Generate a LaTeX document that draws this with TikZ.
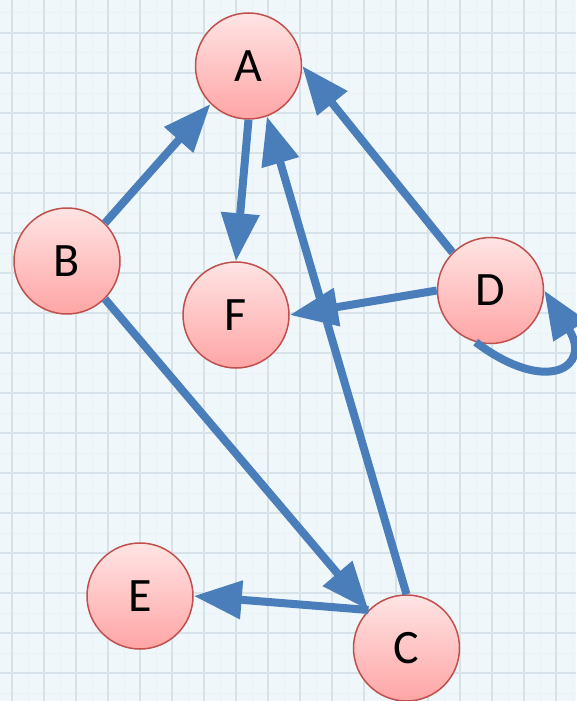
\documentclass[tikz,border=0pt]{standalone}
\usepackage{fontspec}
\setmainfont{Carlito}
\usetikzlibrary{arrows.meta}
\definecolor{edgeblue}{RGB}{74,126,187}
\definecolor{nodeline}{RGB}{192,80,77}
\definecolor{nodetop}{RGB}{255,228,228}
\definecolor{nodebot}{RGB}{255,165,165}
\definecolor{paper}{RGB}{240,247,250}
\definecolor{gridline}{RGB}{215,227,232}
\definecolor{gridfaint}{RGB}{233,242,246}
\tikzset{
	vertex/.style={circle,draw=nodeline,line width=1.5pt,top color=nodetop,bottom color=nodebot,
		minimum size=106pt,inner sep=0pt,font=\fontsize{48}{50}\selectfont},
	link/.style={edgeblue,line width=8pt,-{Triangle[length=48pt,width=37pt]}}
}
\begin{document}
\begin{tikzpicture}[x=1pt,y=-1pt]
	\fill[paper] (0,0) rectangle (576,701);
	\useasboundingbox (0,0) rectangle (576,701);
	% grid paper
	\foreach \gx in {28,60,...,576} \draw[gridfaint,line width=1pt] (\gx,0)--(\gx,701);
	\foreach \gy in {13,53,...,701} \draw[gridfaint,line width=1pt] (0,\gy)--(576,\gy);
	\foreach \gx in {12,44,...,576} \draw[gridline,line width=2.5pt] (\gx,0)--(\gx,701);
	\foreach \gy in {33,73,...,701} \draw[gridline,line width=2.5pt] (0,\gy)--(576,\gy);
	% vertices
	\node[vertex] (A) at (248.5,66) {A};
	\node[vertex] (B) at (67,261) {B};
	\node[vertex] (F) at (236,315) {F};
	\node[vertex] (D) at (490.5,290.5) {D};
	\node[vertex] (E) at (140,596) {E};
	\node[vertex] (C) at (406.5,648) {C};
	% edges
	\draw[link] (B.north east)--(A.south west);
	\draw[link] (A.south)--(F.north);
	\draw[link] (C.north)--(A.-70);
	\draw[link] (D.north west)--(A.east);
	\draw[link] (D.west)--(F.east);
	\draw[link] (B.south east)--(C.north west);
	\draw[link] (C.north west)--(E.east);
	\draw[link] (D.254) .. controls +(72,54) and +(48,76) .. (D.east);
\end{tikzpicture}
\end{document}
